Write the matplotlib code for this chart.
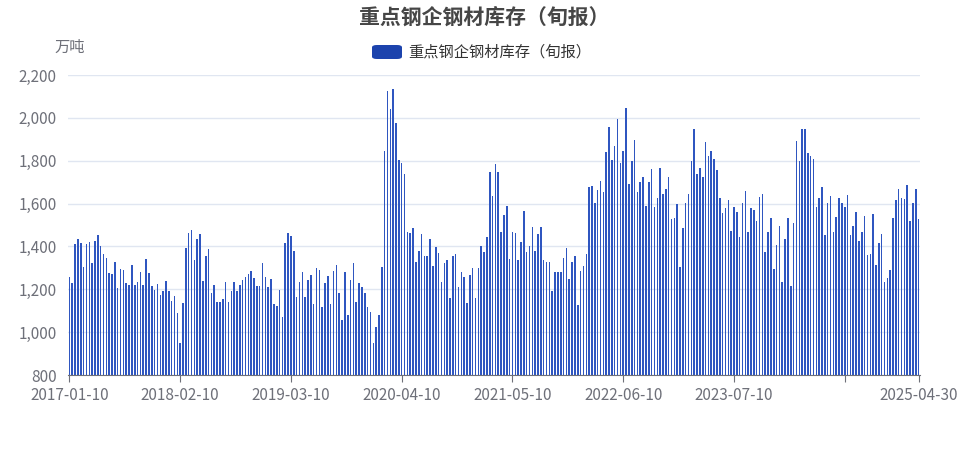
import matplotlib
matplotlib.use("Agg")
import matplotlib.pyplot as plt
import pandas as pd
from matplotlib.patches import FancyBboxPatch

plt.rcParams['font.family'] = ['Noto Sans CJK SC', 'DejaVu Sans']

dates = []
for d in pd.date_range('2017-01-01', '2025-04-01', freq='MS'):
    for day in (10, 20):
        dates.append(f"{d.year}-{d.month:02d}-{day:02d}")
    last = (d + pd.offsets.MonthEnd(0)).day
    dates.append(f"{d.year}-{d.month:02d}-{min(30, last) if d.month != 2 else last:02d}")

values = [
 1256,1228,1412,1437,1415,1306,1410,1420,1322,1426,1452,1402,1365,1348,1278,1270,1328,1206,1293,1290,
 1228,1219,1312,1219,1233,1283,1219,1340,1278,1215,1197,1225,1172,1190,1239,1190,1147,1170,1091,951,
 1138,1395,1465,1477,1337,1437,1457,1241,1356,1388,1182,1220,1143,1140,1155,1233,1141,1190,1233,1192,
 1222,1244,1256,1272,1287,1254,1215,1217,1323,1256,1213,1249,1130,1124,1197,1073,1418,1465,1450,
 1380,1162,1236,1279,1166,1243,1267,1131,1298,1290,1119,1228,1262,1131,1284,1313,1184,1057,1282,1080,
 1243,1324,1142,1228,1209,1181,1119,1096,951,1026,1080,1302,1847,2127,2043,2136,1978,1803,1788,
 1737,1469,1461,1484,1326,1379,1458,1357,1357,1435,1310,1396,1368,1236,1324,1337,1158,1355,1365,1212,
 1282,1256,1134,1267,1301,1158,1298,1402,1374,1446,1749,1637,1783,1746,1466,1547,1589,1340,1466,1461,
 1337,1419,1565,1372,1402,1489,1379,1458,1489,1337,1326,1326,1194,1279,1279,1279,1344,1391,1246,1329,
 1355,1127,1287,1310,1365,1679,1682,1604,1663,1707,1656,1842,1959,1803,1869,1993,1788,1847,2044,
 1690,1800,1897,1656,1699,1726,1589,1702,1760,1586,1628,1767,1643,1668,1726,1526,1531,1596,1302,1484,
 1601,1645,1799,1946,1736,1764,1722,1889,1824,1847,1806,1757,1624,1557,1578,1617,1474,1586,1562,
 1446,1601,1659,1469,1578,1570,1520,1632,1645,1372,1466,1531,1293,1407,1497,1232,1435,1531,1217,1508,
 1894,1799,1946,1946,1838,1822,1806,1586,1624,1679,1453,1604,1637,1466,1539,1628,1601,1586,1640,
 1453,1495,1559,1425,1469,1542,1360,1363,1550,1313,1414,1458,1235,1254,1290,1531,1617,1670,1627,1620,
 1685,1519,1601,1666,1527]

n = len(values)
dates = dates[:n]

fig = plt.figure(figsize=(9.68, 4.71), dpi=100)
ax = fig.add_axes([68/968, 1-375/471, (920-68)/968, 300/471])
x = list(range(n))
ax.bar(x, [v - 800 for v in values], bottom=800, width=0.55, color='#2f56c0', edgecolor='none', linewidth=0)
ax.set_xlim(-0.5, n - 0.5)
ax.set_ylim(800, 2200)
yt = list(range(800, 2201, 200))
ax.set_yticks(yt)
ax.set_yticklabels([f"{v:,}" for v in yt], color='#6e7079', fontsize=11)
ax.grid(axis='y', color='#e0e6f1', linewidth=1)
ax.set_axisbelow(True)
for s in ['top', 'right', 'left']:
    ax.spines[s].set_visible(False)
ax.spines['bottom'].set_color('#6e7079')
tick_idx = [0, 39, 78, 117, 156, 195, 234, 273, n - 1]
ax.set_xticks(tick_idx)
ax.set_xticklabels([dates[i] if i != 273 else '' for i in tick_idx], color='#6e7079', fontsize=11)
ax.tick_params(axis='x', length=5, color='#6e7079')
ax.tick_params(axis='y', length=0, pad=8)

fig.text(0.5, 1-17/471, '重点钢企钢材库存（旬报）', ha='center', va='center', fontsize=15, fontweight='bold', color='#464646')
fig.text(70/968, 1-47/471, '万吨', ha='center', va='center', fontsize=11, color='#6e7079')
fig.patches.append(FancyBboxPatch((372/968, 1-59/471), 30/968, 14/471, boxstyle='round,pad=0,rounding_size=0.005',
                                  transform=fig.transFigure, facecolor='#1c43ad', edgecolor='none'))
fig.text(408/968, 1-52/471, '重点钢企钢材库存（旬报）', ha='left', va='center', fontsize=11, color='#333333')

fig.savefig('out.png', dpi=100)
